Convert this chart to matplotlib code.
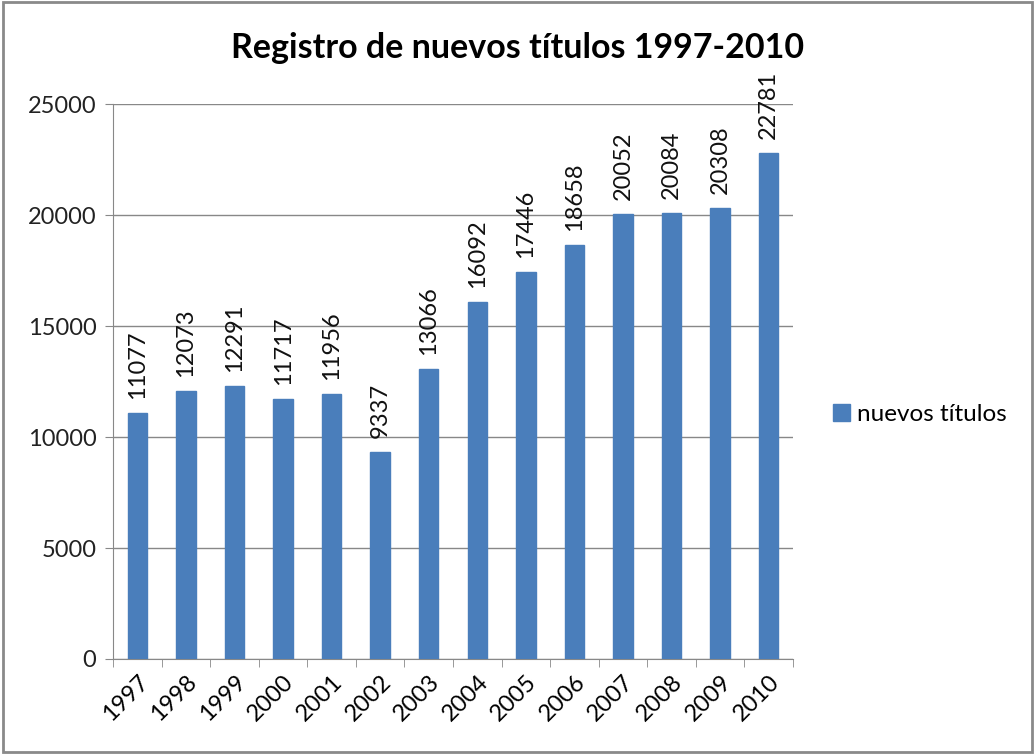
import matplotlib.pyplot as plt
from matplotlib.patches import Rectangle
import numpy as np

years = ['1997', '1998', '1999', '2000', '2001', '2002', '2003',
         '2004', '2005', '2006', '2007', '2008', '2009', '2010']
titulos = [11077, 12073, 12291, 11717, 11956, 9337, 13066,
           16092, 17446, 18658, 20052, 20084, 20308, 22781]

plt.rcParams['font.family'] = ['Lato', 'DejaVu Sans']

fig = plt.figure(figsize=(10.35, 7.54), dpi=100)
ax = fig.add_axes([0.1092, 0.126, 0.657, 0.736])

x = np.arange(len(years))
bars = ax.bar(x, titulos, width=0.4, color='#4a7ebb', edgecolor='#4a7ebb',
              label='nuevos títulos', zorder=3)

for xi, v in zip(x, titulos):
    ax.annotate(str(v), (xi, v), xytext=(0, 10), textcoords='offset points',
                rotation=90, ha='center', va='bottom', fontsize=17,
                color='#111111')

ax.set_xlim(-0.5, len(years) - 0.5)
ax.set_ylim(0, 25000)
ax.set_yticks(np.arange(0, 25001, 5000))
ax.set_xticks(x)
ax.set_xticklabels(years, rotation=45, ha='right', rotation_mode='anchor',
                   fontsize=17)
ax.set_xticks(np.arange(-0.5, len(years), 1), minor=True)
ax.tick_params(axis='x', which='major', length=0, pad=9)
ax.tick_params(axis='x', which='minor', length=6, color='#888888', direction='out')
ax.tick_params(axis='y', length=6, color='#888888', direction='out',
               labelsize=17, pad=6)
for lab in ax.get_yticklabels():
    lab.set_color('#222222')

ax.grid(axis='y', color='#888888', linewidth=1, zorder=0)
for s in ['top', 'right']:
    ax.spines[s].set_visible(False)
ax.spines['left'].set_color('#888888')
ax.spines['bottom'].set_color('#888888')

fig.text(0.50, 0.936, 'Registro de nuevos títulos 1997-2010', ha='center',
         va='center', fontsize=24.5, fontweight='bold')

fig.legend(handles=[bars], labels=['nuevos títulos'], loc='center left',
           bbox_to_anchor=(0.805, 0.45), frameon=False, fontsize=17.5,
           handlelength=0.7, handleheight=0.7, handletextpad=0.3,
           borderpad=0, borderaxespad=0)

fig.patches.append(Rectangle((0.003, 0.003), 0.994, 0.994,
                             transform=fig.transFigure, fill=False,
                             edgecolor='#8a8a8a', linewidth=2))

fig.savefig('out.png', dpi=100)
